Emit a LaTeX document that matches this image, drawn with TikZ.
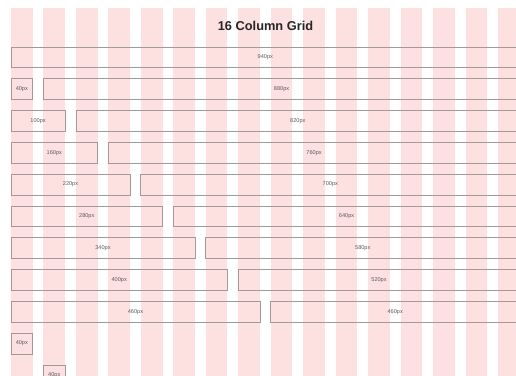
\documentclass[tikz,border=0pt]{standalone}
\usepackage{fontspec}
\setmainfont{Liberation Sans}
\definecolor{colpink}{RGB}{253,225,225}
\definecolor{boxline}{RGB}{165,152,152}
\definecolor{labtxt}{RGB}{95,90,90}
\begin{document}
\begin{tikzpicture}[x=1pt,y=-1pt,
  colstripe/.style={fill=colpink,draw=none},
  gbox/.style={draw=boxline,line width=0.8pt,fill=none},
  glabel/.style={font=\fontsize{5.6}{6}\selectfont,text=labtxt,inner sep=0pt},
  titlestyle/.style={font=\fontsize{12.8}{14}\selectfont\bfseries,text=black!85,inner sep=0pt}]
\useasboundingbox (0,0) rectangle (516,375);
\clip (0,0) rectangle (516,375);
\fill[white] (0,0) rectangle (516,375);
% columns
\foreach \k in {0,...,15}{
  \fill[colstripe] ({11+32.47*\k},8) rectangle ({11+32.47*\k+21.65},380);
}
\node[titlestyle] (title) at (265.5,26) {16 Column Grid};
% helper: box from start px spanning width px on row r
\newcommand{\gridbox}[4]{% name, start px, width px, row
  \pgfmathsetmacro{\xa}{11+0.5412*#2}
  \pgfmathsetmacro{\xb}{11+0.5412*(#2+#3)}
  \pgfmathsetmacro{\ya}{47+31.8*#4}
  \pgfmathsetmacro{\yb}{\ya+20.8}
  \draw[gbox] (\xa,\ya) rectangle (\xb,\yb);
  \node[glabel] (#1) at ({(\xa+\xb)/2},{(\ya+\yb)/2}) {#3px};
}
\gridbox{r0}{0}{940}{0}
\gridbox{r1a}{0}{40}{1}
\gridbox{r1b}{60}{880}{1}
\gridbox{r2a}{0}{100}{2}
\gridbox{r2b}{120}{820}{2}
\gridbox{r3a}{0}{160}{3}
\gridbox{r3b}{180}{760}{3}
\gridbox{r4a}{0}{220}{4}
\gridbox{r4b}{240}{700}{4}
\gridbox{r5a}{0}{280}{5}
\gridbox{r5b}{300}{640}{5}
\gridbox{r6a}{0}{340}{6}
\gridbox{r6b}{360}{580}{6}
\gridbox{r7a}{0}{400}{7}
\gridbox{r7b}{420}{520}{7}
\gridbox{r8a}{0}{460}{8}
\gridbox{r8b}{480}{460}{8}
\gridbox{r9}{0}{40}{9}
\gridbox{r10}{60}{40}{10}
\end{tikzpicture}
\end{document}
